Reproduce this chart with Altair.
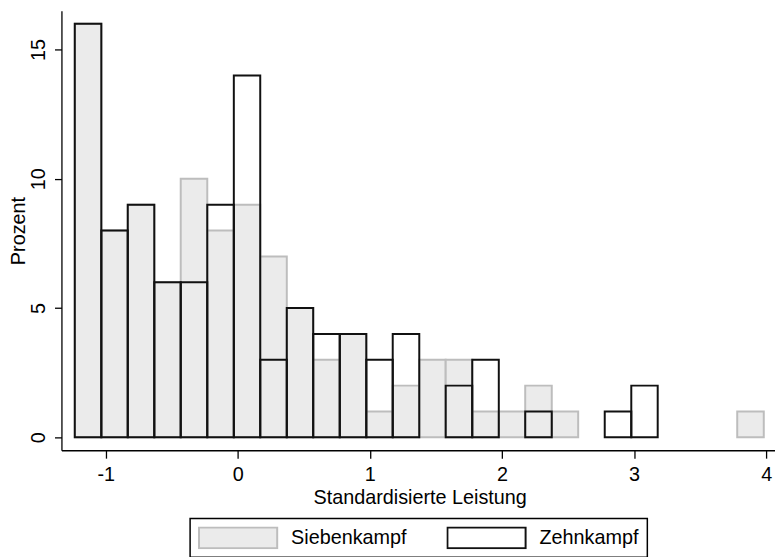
import altair as alt
import pandas as pd

# Bin edges (Standardisierte Leistung), 26 bins
bin_edges = [-1.234, -1.033, -0.833, -0.632, -0.432, -0.231, -0.030, 0.170,
             0.371, 0.571, 0.772, 0.973, 1.173, 1.374, 1.574, 1.775, 1.976,
             2.176, 2.377, 2.577, 2.778, 2.979, 3.179, 3.380, 3.580, 3.781, 3.982]

# Percent per bin
siebenkampf = [16, 8, 9, 6, 10, 8, 9, 7, 5, 3, 4, 1, 2, 3, 3, 1, 1, 2, 1, 0, 0, 0, 0, 0, 0, 1]
zehnkampf = [16, 8, 9, 6, 6, 9, 14, 3, 5, 4, 4, 3, 4, 0, 2, 3, 0, 1, 0, 0, 1, 2, 0, 0, 0, 0]

series_names = ["Siebenkampf", "Zehnkampf"]
x_ticks = [-1, 0, 1, 2, 3, 4]
y_ticks = [0, 5, 10, 15]

rows = []
for name, vals in zip(series_names, (siebenkampf, zehnkampf)):
    for i, v in enumerate(vals):
        if v > 0:
            rows.append({"Disziplin": name, "lo": bin_edges[i],
                         "hi": bin_edges[i + 1], "Prozent": v})
df = pd.DataFrame(rows)

FONT = "Liberation Sans"
FS = 20
NB = "\u00a0\u00a0"

legend = alt.Legend(
    title=None,
    orient="none",
    legendX=130,
    legendY=513,
    direction="horizontal",
    symbolType="M-1,-0.266L1,-0.266L1,0.266L-1,0.266Z",
    symbolSize=6241,
    symbolStrokeWidth=2,
    clipHeight=23,
    labelFont=FONT,
    labelFontSize=FS,
    labelColor="black",
    labelOffset=13,
    labelExpr="datum.label == 'Zehnkampf' ? datum.label + '" + NB + "' : datum.label",
    columnPadding=40,
    padding=8,
    strokeColor="black",
)

chart = alt.Chart(df).mark_rect(strokeWidth=2).encode(
    x=alt.X("lo:Q",
            scale=alt.Scale(domain=[-1.335, 4.067], nice=False, zero=False),
            axis=alt.Axis(values=x_ticks, title="Standardisierte Leistung",
                          tickSize=8, labelPadding=7,
                          labelExpr="datum.value < 0 ? '-' + abs(datum.value) : '' + datum.value",
                          titleX=362, titleY=54, titleBaseline="alphabetic")),
    x2="hi:Q",
    y=alt.Y("Prozent:Q", stack=None,
            scale=alt.Scale(domain=[-0.5, 16.5], nice=False, zero=False),
            axis=alt.Axis(values=y_ticks, title="Prozent", tickSize=7,
                          labelAngle=-90, labelAlign="center", labelBaseline="bottom",
                          labelPadding=6, titleX=-37, titleBaseline="alphabetic")),
    y2=alt.datum(0),
    fill=alt.Fill("Disziplin:N",
                  scale=alt.Scale(domain=series_names, range=["#ebebeb", "transparent"]),
                  legend=legend),
    stroke=alt.Stroke("Disziplin:N",
                      scale=alt.Scale(domain=series_names, range=["#bdbdbd", "#111111"]),
                      legend=legend),
).properties(
    width=721,
    height=444,
    autosize=alt.AutoSizeParams(type="none"),
    padding={"left": 54, "top": 0, "right": 0, "bottom": 105},
    background="white",
).configure_view(
    stroke=None
).configure_axis(
    grid=False,
    domainColor="black",
    domainWidth=1.3,
    tickColor="black",
    tickWidth=1.3,
    labelFont=FONT,
    labelFontSize=FS,
    labelColor="black",
    titleFont=FONT,
    titleFontSize=FS,
    titleFontWeight="normal",
    titleColor="black",
).configure_legend(
    strokeWidth=1.5
)

chart.save("out.html", embed_options={"renderer": "svg", "actions": False})
